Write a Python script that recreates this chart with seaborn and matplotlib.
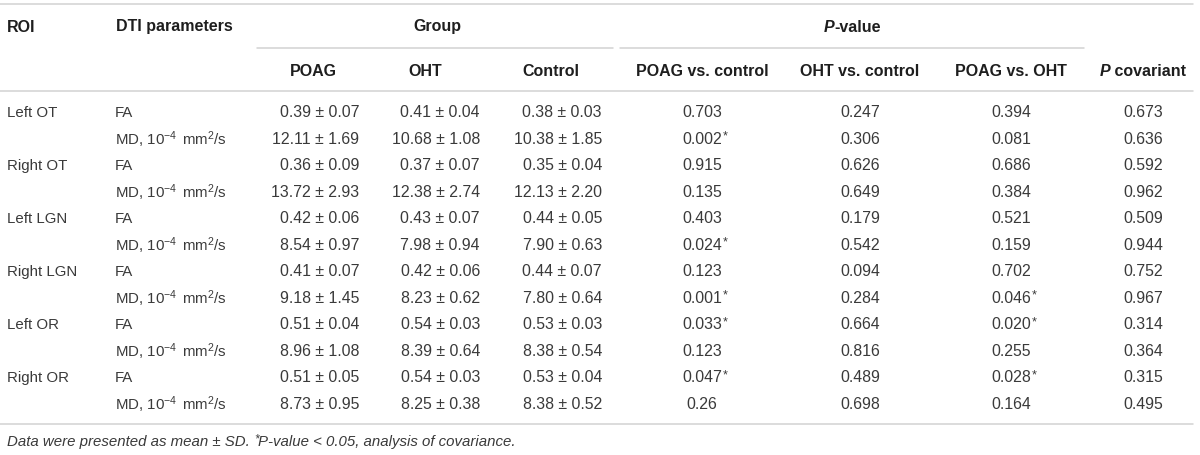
import numpy as np
import pandas as pd
import seaborn as sns
from matplotlib import pyplot as plt

rois = ['Left OT', 'Right OT', 'Left LGN', 'Right LGN', 'Left OR', 'Right OR']
params = ['FA', r'MD, 10$^{-4}$$\,$ mm$^{2}$/s']
groups = ['POAG', 'OHT', 'Control']
comparisons = ['POAG vs. control', 'OHT vs. control', 'POAG vs. OHT']

poag_mean = [0.39, 12.11, 0.36, 13.72, 0.42, 8.54, 0.41, 9.18, 0.51, 8.96, 0.51, 8.73]
poag_sd = [0.07, 1.69, 0.09, 2.93, 0.06, 0.97, 0.07, 1.45, 0.04, 1.08, 0.05, 0.95]
oht_mean = [0.41, 10.68, 0.37, 12.38, 0.43, 7.98, 0.42, 8.23, 0.54, 8.39, 0.54, 8.25]
oht_sd = [0.04, 1.08, 0.07, 2.74, 0.07, 0.94, 0.06, 0.62, 0.03, 0.64, 0.03, 0.38]
ctrl_mean = [0.38, 10.38, 0.35, 12.13, 0.44, 7.90, 0.44, 7.80, 0.53, 8.38, 0.53, 8.38]
ctrl_sd = [0.03, 1.85, 0.04, 2.20, 0.05, 0.63, 0.07, 0.64, 0.03, 0.54, 0.04, 0.52]

p_poag_ctrl = ['0.703', '0.002', '0.915', '0.135', '0.403', '0.024',
               '0.123', '0.001', '0.033', '0.123', '0.047', '0.26']
p_oht_ctrl = ['0.247', '0.306', '0.626', '0.649', '0.179', '0.542',
              '0.094', '0.284', '0.664', '0.816', '0.489', '0.698']
p_poag_oht = ['0.394', '0.081', '0.686', '0.384', '0.521', '0.159',
              '0.702', '0.046', '0.020', '0.255', '0.028', '0.164']
p_cov = ['0.673', '0.636', '0.592', '0.962', '0.509', '0.944',
         '0.752', '0.967', '0.314', '0.364', '0.315', '0.495']

df = pd.DataFrame({
    'roi': np.repeat(rois, 2),
    'param': params * len(rois),
    'POAG': [f'{m:.2f} ± {s:.2f}' for m, s in zip(poag_mean, poag_sd)],
    'OHT': [f'{m:.2f} ± {s:.2f}' for m, s in zip(oht_mean, oht_sd)],
    'Control': [f'{m:.2f} ± {s:.2f}' for m, s in zip(ctrl_mean, ctrl_sd)],
    'p1': p_poag_ctrl, 'p2': p_oht_ctrl, 'p3': p_poag_oht, 'pc': p_cov,
})

sns.set_theme(style='white')
plt.rcParams['font.family'] = ['Liberation Sans', 'DejaVu Sans']
plt.rcParams['mathtext.fontset'] = 'custom'
plt.rcParams['mathtext.rm'] = 'Liberation Sans'
plt.rcParams['mathtext.it'] = 'Liberation Sans:italic'
plt.rcParams['mathtext.default'] = 'regular'

BODY = '#3a3a3a'
HEAD = '#1e1e1e'
RULE = '#d2d2d2'
FS = 10.8     # labels
NFS = 11.4    # numbers
HFS = 11.5    # header

fig = plt.figure(figsize=(12, 4.56), dpi=100)
ax = fig.add_axes([0, 0, 1, 1])
ax.set_xlim(0, 1200)
ax.set_ylim(456, 0)
ax.axis('off')
renderer = fig.canvas.get_renderer()


def width_of(t):
    return t.get_window_extent(renderer).width


def rich(x, y, parts, **kw):
    # parts: list of (text, style dict); centred on x
    items = [ax.text(0, y, s, va='center', ha='left', **kw, **st) for s, st in parts]
    total = sum(width_of(t) for t in items)
    cur = x - total / 2
    for t in items:
        t.set_x(cur)
        cur += width_of(t)
    return items


# rules
for y in (5, 92, 425):
    ax.plot([0, 1193], [y, y], color=RULE, lw=1.1)
ax.plot([257, 613], [49, 49], color=RULE, lw=1.1)
ax.plot([620, 1084], [49, 49], color=RULE, lw=1.1)

# header
hkw = dict(fontsize=HFS, fontweight='bold', color=HEAD, va='center')
ax.text(7, 27, 'ROI', ha='left', **hkw)
ax.text(116, 27, 'DTI parameters', ha='left', **hkw)
ax.text(437, 27, 'Group', ha='center', **hkw)
rich(852, 27, [('P', dict(fontstyle='italic')), ('-value', {})],
     fontsize=HFS, fontweight='bold', color=HEAD)

group_center = [313, 425, 551]
group_right = [359, 480, 602]
p_center = [702, 860, 1011, 1143]
for g, x in zip(groups, group_center):
    ax.text(x, 72, g, ha='center', **hkw)
for c, x in zip(comparisons, p_center[:3]):
    ax.text(x, 72, c, ha='center', **hkw)
rich(p_center[3], 72, [('P', dict(fontstyle='italic')), (' covariant', {})],
     fontsize=HFS, fontweight='bold', color=HEAD)

# body
bkw = dict(fontsize=FS, color=BODY, va='center')
nkw = dict(fontsize=NFS, color=BODY, va='center')
row_y = 113 + 26.5 * np.arange(len(df))
for i, row in df.iterrows():
    y = row_y[i]
    if i % 2 == 0:
        ax.text(7, y, row['roi'], ha='left', **bkw)
    ax.text(115, y, row['param'], ha='left', **bkw)
    for g, x in zip(groups, group_right):
        ax.text(x, y, row[g], ha='right', **nkw)
    for col, x in zip(['p1', 'p2', 'p3', 'pc'], p_center):
        t = ax.text(x, y, row[col], ha='center', **nkw)
        if col != 'pc' and float(row[col]) < 0.05:
            ax.text(x + width_of(t) / 2 + 0.5, y - 3, '*', ha='left',
                    fontsize=NFS * 0.8, color=BODY, va='center')

# footnote
fkw = dict(fontsize=FS, color=BODY, va='center', ha='left', fontstyle='italic')
t1 = ax.text(7, 442, 'Data were presented as mean ± SD. ', **fkw)
x1 = 7 + width_of(t1)
t2 = ax.text(x1, 439, '*', fontsize=FS * 0.8, color=BODY, va='center',
             ha='left', fontstyle='italic')
ax.text(x1 + width_of(t2), 442, 'P-value < 0.05, analysis of covariance.', **fkw)

fig.savefig('out.png', dpi=100)
